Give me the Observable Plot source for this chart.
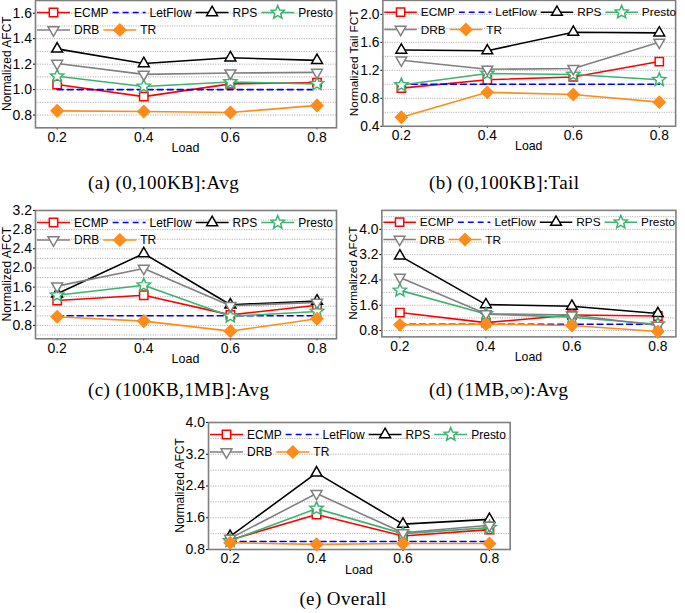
<!DOCTYPE html>
<html><head><meta charset="utf-8">
<script src="https://cdn.jsdelivr.net/npm/d3@7"></script>
<script src="https://cdn.jsdelivr.net/npm/@observablehq/plot@0.6"></script>
<style>
body{margin:0;background:#fff;}
#root{position:relative;width:685px;height:613px;overflow:hidden;background:#fff;}
.panel{position:absolute;}
#overlay{position:absolute;left:0;top:0;pointer-events:none;}
</style></head><body><div id="root"></div>
<script>
// ---------- data ----------
const loads = [0.2, 0.4, 0.6, 0.8];
const seriesNames = ["ECMP", "LetFlow", "RPS", "Presto", "DRB", "TR"];
const seriesColors = ["#ff0000", "#0000ff", "#000000", "#3cb371", "#808080", "#ff8c1a"];

// (a) (0,100KB]: Avg  — rows follow seriesNames
const avgSmall = [
  [1.04, 0.945, 1.045, 1.055],
  [1.0, 1.0, 1.0, 1.0],
  [1.32, 1.205, 1.25, 1.23],
  [1.105, 1.025, 1.06, 1.045],
  [1.205, 1.12, 1.13, 1.135],
  [0.833, 0.828, 0.82, 0.876]
];
// (b) (0,100KB]: Tail
const tailSmall = [
  [0.945, 1.065, 1.105, 1.325],
  [1.0, 1.0, 1.0, 1.0],
  [1.49, 1.48, 1.745, 1.735],
  [0.99, 1.155, 1.14, 1.065],
  [1.345, 1.215, 1.225, 1.6],
  [0.53, 0.885, 0.855, 0.745]
];
// (c) (100KB,1MB]: Avg
const avgMedium = [
  [1.32, 1.43, 1.02, 1.22],
  [1.0, 1.0, 1.0, 1.0],
  [1.46, 2.3, 1.23, 1.31],
  [1.43, 1.64, 0.99, 1.09],
  [1.62, 1.99, 1.21, 1.28],
  [0.98, 0.89, 0.68, 0.94]
];
// (d) (1MB,inf): Avg
const avgLarge = [
  [1.37, 1.05, 1.29, 1.26],
  [1.0, 1.0, 1.0, 1.0],
  [3.16, 1.62, 1.57, 1.34],
  [2.07, 1.32, 1.22, 1.0],
  [2.48, 1.33, 1.29, 0.96],
  [0.98, 1.0, 0.96, 0.77]
];
// (e) Overall
const avgOverall = [
  [1.04, 1.68, 1.14, 1.30],
  [1.0, 1.0, 1.0, 1.0],
  [1.13, 2.73, 1.44, 1.56],
  [1.02, 1.83, 1.20, 1.35],
  [1.08, 2.21, 1.22, 1.41],
  [0.97, 0.93, 0.95, 0.95]
];

// tick labels / grid values
const ticksA = [0.8, 1.0, 1.2, 1.4, 1.6];
const gridA = [0.8, 0.9, 1.0, 1.1, 1.2, 1.3, 1.4, 1.5, 1.6];
const ticksB = [0.4, 0.8, 1.2, 1.6, 2.0];
const gridB = [0.6, 0.8, 1.0, 1.2, 1.4, 1.6, 1.8, 2.0];
const ticksC = [0.8, 1.2, 1.6, 2.0, 2.4, 2.8, 3.2];
const gridC = [0.6, 0.8, 1.0, 1.2, 1.4, 1.6, 1.8, 2.0, 2.2, 2.4, 2.6, 2.8, 3.0];
const ticksD = [0.8, 1.6, 2.4, 3.2, 4.0];
const gridD = [0.8, 1.2, 1.6, 2.0, 2.4, 2.8, 3.2, 3.6, 4.0, 4.4];
const ticksE = [0.8, 1.6, 2.4, 3.2, 4.0];
const gridE = [1.2, 1.6, 2.0, 2.4, 2.8, 3.2, 3.6];

const captions = ["(a)  (0,100KB]:Avg", "(b)  (0,100KB]:Tail", "(c)  (100KB,1MB]:Avg", "(d)  (1MB,\u221E):Avg", "(e)  Overall"];
const yTitles = ["Normalized AFCT", "Normalized Tail FCT", "Normalized AFCT", "Normalized AFCT", "Normalized AFCT"];
const xTitle = "Load";

// ---------- symbols ----------
function rad(size) { return Math.sqrt(size / Math.PI); }
const symSquare = {draw(c, s) { const r = rad(s); c.moveTo(-r, -r); c.lineTo(r, -r); c.lineTo(r, r); c.lineTo(-r, r); c.closePath(); }};
function triangle(dir) {
  return {draw(c, s) { const r = rad(s); for (let k = 0; k < 3; k++) { const a = dir * Math.PI / 2 + k * 2 * Math.PI / 3; const px = r * Math.cos(a), py = r * Math.sin(a); if (k) c.lineTo(px, py); else c.moveTo(px, py); } c.closePath(); }};
}
const symTriUp = triangle(-1), symTriDown = triangle(1);
const symStar = {draw(c, s) { const r = rad(s), ri = r * 0.45; for (let k = 0; k < 10; k++) { const a = -Math.PI / 2 + k * Math.PI / 5; const rr = k % 2 ? ri : r; const px = rr * Math.cos(a), py = rr * Math.sin(a); if (k) c.lineTo(px, py); else c.moveTo(px, py); } c.closePath(); }};
const symDiamond = {draw(c, s) { const r = rad(s); c.moveTo(0, -r); c.lineTo(r, 0); c.lineTo(0, r); c.lineTo(-r, 0); c.closePath(); }};
const seriesSymbols = [symSquare, null, symTriUp, symStar, symTriDown, symDiamond];
const symbolR = [4.2, 0, 6.3, 7, 6.3, 6];
const symbolFill = ["#fff", null, "#fff", "#fff", "#fff", "#ff8c1a"];

// ---------- layout (frame box in page px) ----------
const panels = [
  {L: 35, R: 336, T: 0, B: 127.3, xd: [0.15, 0.845], yd: [0.7, 1.7], yt: ticksA, grid: gridA, vals: avgSmall, capX: 88, capY: 189, anchor: "start"},
  {L: 383, R: 680, T: 0, B: 127.7, xd: [0.157, 0.838], yd: [0.4, 2.2], yt: ticksB, grid: gridB, vals: tailSmall, capX: 429, capY: 189, anchor: "start"},
  {L: 35, R: 336, T: 210, B: 338.3, xd: [0.15, 0.845], yd: [0.52, 3.2], yt: ticksC, grid: gridC, vals: avgMedium, capX: 88, capY: 396, anchor: "start"},
  {L: 381.7, R: 680, T: 210, B: 338.3, xd: [0.158, 0.842], yd: [0.6, 4.6], yt: ticksD, grid: gridD, vals: avgLarge, capX: 429, capY: 396, anchor: "start"},
  {L: 208.3, R: 510, T: 422.3, B: 549.3, xd: [0.15, 0.848], yd: [0.8, 4.0], yt: ticksE, grid: gridE, vals: avgOverall, capX: 343, capY: 605, anchor: "middle"}
];

const root = document.getElementById("root");
const mL = 46, mR = 10, mT = 8, mB = 32;
const FONT = "'Liberation Sans', Arial, sans-serif";

function symPath(sym, r) { const p = d3.path(); sym.draw(p, Math.PI * r * r); return p.toString(); }

panels.forEach((cfg, pi) => {
  const fw = cfg.R - cfg.L, fh = cfg.B - cfg.T;
  const marks = [
    Plot.ruleY(cfg.grid, {stroke: "#b4b4b4", strokeWidth: 1, strokeDasharray: "1.2,1.2"}),
    Plot.frame({stroke: "#7f7f7f", strokeWidth: 1.6})
  ];
  seriesNames.forEach((name, i) => {
    const rows = loads.map((x, j) => ({series: name, load: x, value: cfg.vals[i][j]}));
    marks.push(Plot.line(rows, {x: "load", y: "value", stroke: seriesColors[i], strokeWidth: 1.6, strokeDasharray: i === 1 ? "6,4" : null}));
    if (seriesSymbols[i]) {
      marks.push(Plot.dot(rows, {x: "load", y: "value", symbol: seriesSymbols[i], r: symbolR[i], stroke: seriesColors[i], fill: symbolFill[i], strokeWidth: 1.5}));
    }
  });
  const svg = Plot.plot({
    width: fw + mL + mR, height: fh + mT + mB,
    marginLeft: mL, marginRight: mR, marginTop: mT, marginBottom: mB,
    style: {fontFamily: FONT, fontSize: "14px", color: "#000", background: "transparent", overflow: "visible"},
    x: {domain: cfg.xd, ticks: loads, tickFormat: d3.format(".1f"), label: null, tickSize: 2, tickPadding: 2},
    y: {domain: cfg.yd, ticks: cfg.yt, tickFormat: d3.format(".1f"), label: null, tickSize: 2, tickPadding: 1.5},
    marks
  });
  const div = document.createElement("div");
  div.className = "panel";
  div.style.left = (cfg.L - mL) + "px";
  div.style.top = (cfg.T - mT) + "px";
  div.appendChild(svg);
  root.appendChild(div);

  const g = d3.select(svg).append("g").attr("font-family", FONT).attr("fill", "#000");
  // axis titles
  g.append("text").attr("transform", `translate(${mL - 28.5},${mT + fh / 2}) rotate(-90)`)
    .attr("text-anchor", "middle").attr("dominant-baseline", "central").attr("font-size", 12).text(yTitles[pi]);
  g.append("text").attr("x", mL + fw / 2).attr("y", mT + fh + 25).attr("text-anchor", "middle").attr("font-size", 12.5).text(xTitle);

  // legend
  const lg = g.append("g").attr("font-size", 12).attr("text-anchor", "start");
  const rowsIdx = [[0, 1, 2, 3], [4, 5]];
  rowsIdx.forEach((row, ri) => {
    let x = mL + 2;
    const y = mT + 12.5 + ri * 17.5;
    row.forEach(i => {
      lg.append("line").attr("x1", x).attr("x2", x + 33).attr("y1", y).attr("y2", y)
        .attr("stroke", seriesColors[i]).attr("stroke-width", 1.6).attr("stroke-dasharray", i === 1 ? "6,4" : null);
      if (seriesSymbols[i]) {
        lg.append("path").attr("d", symPath(seriesSymbols[i], symbolR[i])).attr("transform", `translate(${x + 16.5},${y})`)
          .attr("stroke", seriesColors[i]).attr("stroke-width", 1.5).attr("fill", symbolFill[i]);
      }
      const t = lg.append("text").attr("x", x + 37).attr("y", y).attr("dy", "0.36em").attr("text-anchor", "start").text(seriesNames[i]);
      x = x + 37 + t.node().getComputedTextLength() + 4;
    });
  });
});

// captions
const ov = d3.select(root).append("svg").attr("id", "overlay").attr("width", 685).attr("height", 613);
panels.forEach((cfg, pi) => {
  ov.append("text").attr("x", cfg.capX).attr("y", cfg.capY).attr("text-anchor", cfg.anchor)
    .attr("font-family", "'Liberation Serif', 'Times New Roman', serif").attr("font-size", 19)
    .attr("letter-spacing", "0.4px").attr("fill", "#000").text(captions[pi]);
});
</script></body></html>
